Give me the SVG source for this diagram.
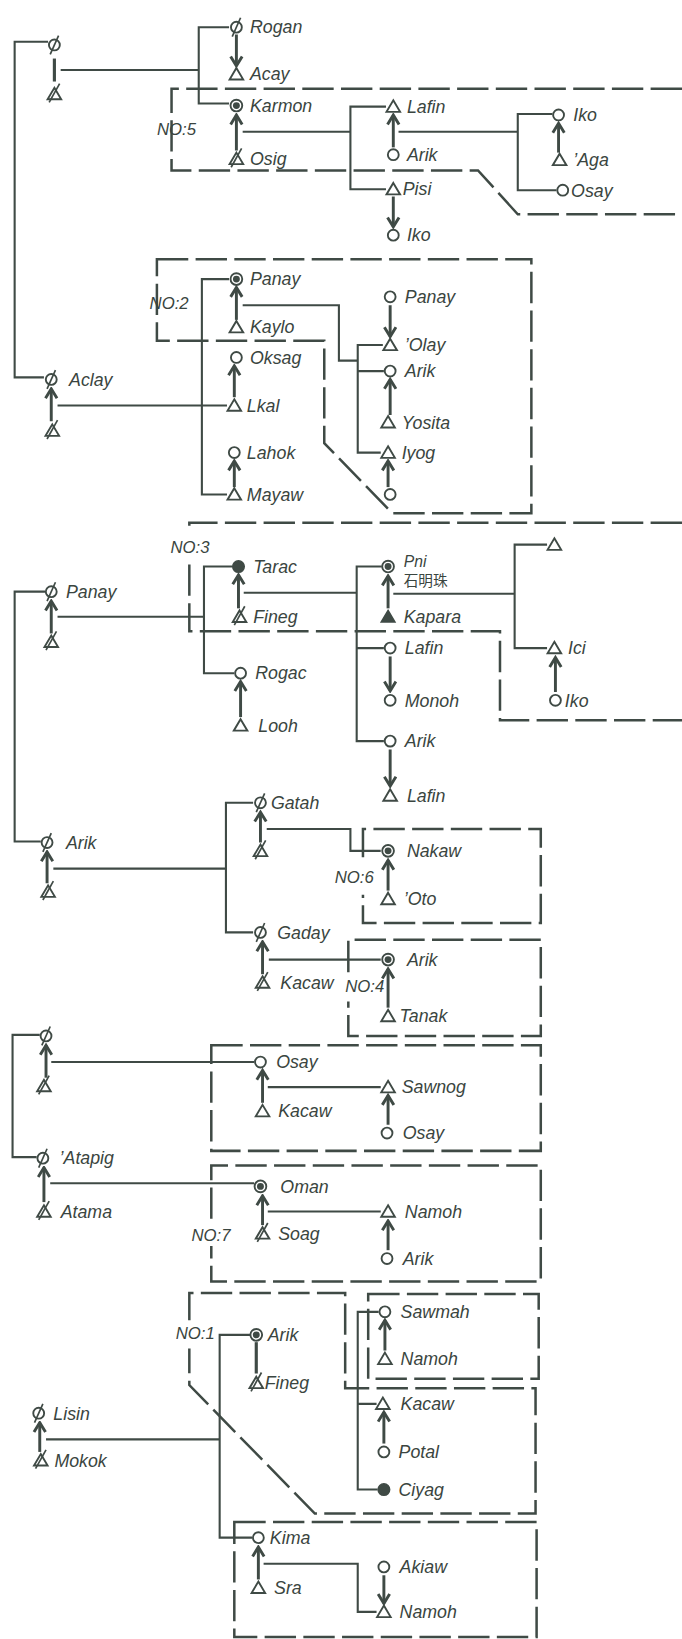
<svg xmlns="http://www.w3.org/2000/svg" width="682" height="1639" viewBox="0 0 682 1639">
<style>
.ln{fill:none;stroke:#3f4a45;stroke-width:2}
.bar{fill:none;stroke:#3f4a45;stroke-width:3}
.ds{fill:none;stroke:#3f4a45;stroke-width:2.4;stroke-dasharray:30 7}
.ar{fill:none;stroke:#3f4a45;stroke-width:2.8;marker-end:url(#ah)}
.sym{fill:#fff;stroke:#3f4a45;stroke-width:1.8}
.fil{fill:#3f4a45;stroke:#3f4a45;stroke-width:1.5}
.sl{stroke:#3f4a45;stroke-width:1.6}
.t{font-family:"Liberation Sans","Noto Sans",sans-serif;font-style:italic;font-size:17px;fill:#3a4540}
.no{font-family:"Liberation Sans","Noto Sans",sans-serif;font-style:italic;font-size:16px;fill:#3a4540}
.cj{font-family:"Noto Sans CJK TC","Noto Sans CJK SC",sans-serif;font-size:14px;fill:#3a4540}
</style>
<defs>
<marker id="ah" viewBox="0 0 14 14" refX="12" refY="7" markerWidth="14" markerHeight="14" orient="auto" markerUnits="userSpaceOnUse"><path d="M3,1.5 L12,7 L3,12.5" fill="none" stroke="#3f4a45" stroke-width="2.8" stroke-linejoin="miter"/></marker>
<g id="tri"><polygon class="sym" points="0,-6 6.5,5 -6.5,5"/></g>
<g id="ftri"><polygon class="fil" points="0,-6 6.5,5 -6.5,5"/></g>
<g id="cir"><circle class="sym" r="5.2"/></g>
<g id="dcir"><circle class="sym" r="5.6"/><circle r="3.3" fill="#3f4a45"/></g>
<g id="fcir"><circle class="fil" r="5.5"/></g>
<g id="xcir"><circle class="sym" r="5.2"/><line class="sl" x1="-4" y1="9" x2="4" y2="-9"/></g>
<g id="xtri"><polygon class="sym" points="0,-6 6.5,5 -6.5,5"/><line class="sl" x1="-5" y1="8" x2="5" y2="-10"/></g>
</defs>
<rect width="682" height="1639" fill="#fff"/>
<g transform="scale(1.046 1.0453)">
<g id="connectors">
<path class="ln" d="M46,40 H14 V361 H42"/>
<path class="ln" d="M58,67 H190"/>
<path class="bar" d="M52,56 V78"/>
<path class="ln" d="M219,26 H190 V99 H219"/>
<line class="ar" x1="226" y1="33" x2="226" y2="63"/>
<line class="ar" x1="226" y1="144" x2="226" y2="110"/>
<path class="ln" d="M232,126 H335"/>
<path class="ln" d="M369,102 H335 V181 H369"/>
<line class="ar" x1="376" y1="141" x2="376" y2="110"/>
<path class="ln" d="M381,126 H495"/>
<path class="ln" d="M528,109 H495 V182 H532"/>
<line class="ar" x1="534" y1="146" x2="534" y2="118"/>
<line class="ar" x1="376" y1="188" x2="376" y2="217"/>
<path class="ds" d="M652,85 H164 V163 H457 L495,205 H652"/>

<path class="ln" d="M219,267 H193 V473 H217"/>
<line class="ar" x1="226" y1="306" x2="226" y2="275"/>
<path class="ln" d="M232,292 H324 V345 H342"/>
<path class="ln" d="M366,330 H342 V433 H364 M342,355 H367"/>
<line class="ar" x1="373" y1="292" x2="373" y2="322"/>
<line class="ar" x1="373" y1="397" x2="373" y2="363"/>
<line class="ar" x1="371" y1="466" x2="371" y2="441"/>
<line class="ar" x1="224" y1="380" x2="224" y2="350"/>
<line class="ar" x1="224" y1="466" x2="224" y2="441"/>
<line class="ar" x1="49" y1="403" x2="49" y2="372"/>
<path class="ln" d="M55,388 H217"/>
<path class="ds" d="M150,248 H508 V491 H375 L310,424 V326 H150 Z"/>

<path class="ln" d="M43,566 H14 V805 H39"/>
<line class="ar" x1="49" y1="606" x2="49" y2="575"/>
<path class="ln" d="M55,590 H195"/>
<path class="ln" d="M222,542 H195 V644 H224"/>
<line class="ar" x1="228" y1="582" x2="228" y2="550"/>
<path class="ln" d="M233,567 H341"/>
<path class="ln" d="M365,542 H341 V709 H367 M341,620 H367"/>
<line class="ar" x1="371" y1="582" x2="371" y2="551"/>
<path class="ln" d="M376,568 H492"/>
<path class="ln" d="M523,521 H492 V620 H523"/>
<line class="ar" x1="531" y1="662" x2="531" y2="629"/>
<line class="ar" x1="373" y1="628" x2="373" y2="661"/>
<line class="ar" x1="230" y1="686" x2="230" y2="652"/>
<line class="ar" x1="373" y1="717" x2="373" y2="752"/>
<path class="ds" d="M652,500 H181 V507 M181,540 V604 H478 V689 H652"/>

<line class="ar" x1="45" y1="845" x2="45" y2="815"/>
<path class="ln" d="M51,831 H216"/>
<path class="ln" d="M242,768 H216 V892 H242"/>
<line class="ar" x1="249" y1="806" x2="249" y2="777"/>
<path class="ln" d="M255,793 H335 V814 H364"/>
<line class="ar" x1="371" y1="852" x2="371" y2="823"/>
<line class="ar" x1="251" y1="932" x2="251" y2="901"/>
<path class="ln" d="M257,918 H364"/>
<line class="ar" x1="371" y1="964" x2="371" y2="927"/>
<path class="ds" d="M347,820 V793 H517 V883 H347 V856"/>
<path class="ds" d="M333,930 V899 H517 V991 H333 V958"/>

<path class="ln" d="M38,990 H12 V1107 H35"/>
<line class="ar" x1="44" y1="1031" x2="44" y2="1000"/>
<path class="ln" d="M49,1016 H243"/>
<line class="ar" x1="251" y1="1055" x2="251" y2="1024"/>
<path class="ln" d="M256,1040 H364"/>
<line class="ar" x1="371" y1="1076" x2="371" y2="1048"/>
<path class="ds" d="M202,1000 H517 V1101 H202 Z"/>

<line class="ar" x1="42" y1="1150" x2="42" y2="1117"/>
<path class="ln" d="M48,1132 H243"/>
<line class="ar" x1="251" y1="1172" x2="251" y2="1144"/>
<path class="ln" d="M256,1159 H364"/>
<line class="ar" x1="371" y1="1196" x2="371" y2="1168"/>
<path class="ds" d="M202,1166 V1115 H517 V1226 H202 V1192"/>

<path class="ln" d="M239,1277 H210 V1471 H241"/>
<path class="bar" d="M245,1284 V1314"/>
<line class="ar" x1="368" y1="1292" x2="368" y2="1263"/>
<path class="ln" d="M362,1255 H342 V1425 H361 M342,1343 H360"/>
<line class="ar" x1="367" y1="1381" x2="367" y2="1351"/>
<line class="ar" x1="38" y1="1389" x2="38" y2="1361"/>
<path class="ln" d="M44,1377 H210"/>
<path class="ds" d="M181,1263 V1237 H330 V1328 H512 V1448 H301 L181,1325 V1290"/>
<path class="ds" d="M352,1238 H515 V1319 H352 Z"/>

<line class="ar" x1="247" y1="1511" x2="247" y2="1480"/>
<path class="ln" d="M252,1496 H342 V1542 H360"/>
<line class="ar" x1="367" y1="1507" x2="367" y2="1534"/>
<path class="ds" d="M224,1456 H513 V1566 H224 Z"/>
</g>

<g id="labels">
<text class="no" x="150" y="129">NO:5</text>
<text class="no" x="143" y="296">NO:2</text>
<text class="no" x="163" y="529">NO:3</text>
<text class="no" x="320" y="845">NO:6</text>
<text class="no" x="330" y="949">NO:4</text>
<text class="no" x="183" y="1187">NO:7</text>
<text class="no" x="168" y="1281">NO:1</text>
</g>

<g id="n-top-f"><use href="#xcir" x="52" y="43"/></g>
<g id="n-top-m"><use href="#xtri" x="52" y="90"/></g>
<g id="n-rogan"><use href="#xcir" x="226" y="26"/><text class="t" x="239" y="32">Rogan</text></g>
<g id="n-acay"><use href="#tri" x="226" y="71"/><text class="t" x="239" y="77">Acay</text></g>
<g id="n-karmon"><use href="#dcir" x="226" y="101"/><text class="t" x="239" y="107">Karmon</text></g>
<g id="n-osig"><use href="#xtri" x="226" y="152"/><text class="t" x="239" y="158">Osig</text></g>
<g id="n-lafin1"><use href="#tri" x="376" y="102"/><text class="t" x="389" y="108">Lafin</text></g>
<g id="n-arik1"><use href="#cir" x="376" y="148"/><text class="t" x="389" y="154">Arik</text></g>
<g id="n-pisi"><use href="#tri" x="376" y="181"/><text class="t" x="385" y="187">Pisi</text></g>
<g id="n-iko1"><use href="#cir" x="376" y="225"/><text class="t" x="389" y="231">Iko</text></g>
<g id="n-iko2"><use href="#cir" x="534" y="110"/><text class="t" x="548" y="116">Iko</text></g>
<g id="n-aga"><use href="#tri" x="535" y="153"/><text class="t" x="548" y="159">’Aga</text></g>
<g id="n-osay1"><use href="#cir" x="538" y="182"/><text class="t" x="546" y="188">Osay</text></g>

<g id="n-panay2"><use href="#dcir" x="226" y="267"/><text class="t" x="239" y="273">Panay</text></g>
<g id="n-kaylo"><use href="#tri" x="226" y="313"/><text class="t" x="239" y="319">Kaylo</text></g>
<g id="n-oksag"><use href="#cir" x="226" y="342"/><text class="t" x="239" y="348">Oksag</text></g>
<g id="n-lkal"><use href="#tri" x="224" y="388"/><text class="t" x="236" y="394">Lkal</text></g>
<g id="n-lahok"><use href="#cir" x="224" y="433"/><text class="t" x="236" y="439">Lahok</text></g>
<g id="n-mayaw"><use href="#tri" x="224" y="473"/><text class="t" x="236" y="479">Mayaw</text></g>
<g id="n-panay2b"><use href="#cir" x="373" y="284"/><text class="t" x="387" y="290">Panay</text></g>
<g id="n-olay"><use href="#tri" x="373" y="330"/><text class="t" x="387" y="336">’Olay</text></g>
<g id="n-arik2"><use href="#cir" x="373" y="355"/><text class="t" x="387" y="361">Arik</text></g>
<g id="n-yosita"><use href="#tri" x="371" y="404"/><text class="t" x="384" y="410">Yosita</text></g>
<g id="n-iyog"><use href="#tri" x="371" y="433"/><text class="t" x="384" y="439">Iyog</text></g>
<g id="n-c2"><use href="#cir" x="373" y="473"/></g>
<g id="n-aclay"><use href="#xcir" x="49" y="363"/><text class="t" x="66" y="369">Aclay</text></g>
<g id="n-aclay-h"><use href="#xtri" x="50" y="412"/></g>

<g id="n-panay3"><use href="#xcir" x="49" y="566"/><text class="t" x="63" y="572">Panay</text></g>
<g id="n-panay3-h"><use href="#xtri" x="49" y="614"/></g>
<g id="n-tarac"><use href="#fcir" x="228" y="542"/><text class="t" x="242" y="548">Tarac</text></g>
<g id="n-fineg3"><use href="#xtri" x="229" y="590"/><text class="t" x="242" y="596">Fineg</text></g>
<g id="n-rogac"><use href="#cir" x="230" y="644"/><text class="t" x="244" y="650">Rogac</text></g>
<g id="n-looh"><use href="#tri" x="230" y="694"/><text class="t" x="247" y="700">Looh</text></g>
<g id="n-pni"><use href="#dcir" x="371" y="542"/><text class="t" x="386" y="542" style="font-size:15px">Pni</text><text class="cj" x="386" y="561">石明珠</text></g>
<g id="n-kapara"><use href="#ftri" x="371" y="590"/><text class="t" x="386" y="596">Kapara</text></g>
<g id="n-lafin3"><use href="#cir" x="373" y="620"/><text class="t" x="387" y="626">Lafin</text></g>
<g id="n-monoh"><use href="#cir" x="373" y="670"/><text class="t" x="387" y="676">Monoh</text></g>
<g id="n-arik3"><use href="#cir" x="373" y="709"/><text class="t" x="387" y="715">Arik</text></g>
<g id="n-lafin3b"><use href="#tri" x="373" y="761"/><text class="t" x="389" y="767">Lafin</text></g>
<g id="n-t3"><use href="#tri" x="530" y="521"/></g>
<g id="n-ici"><use href="#tri" x="530" y="620"/><text class="t" x="543" y="626">Ici</text></g>
<g id="n-iko3"><use href="#cir" x="531" y="670"/><text class="t" x="540" y="676">Iko</text></g>

<g id="n-arik4"><use href="#xcir" x="45" y="806"/><text class="t" x="63" y="812">Arik</text></g>
<g id="n-arik4-h"><use href="#xtri" x="46" y="853"/></g>
<g id="n-gatah"><use href="#xcir" x="249" y="768"/><text class="t" x="259" y="774">Gatah</text></g>
<g id="n-gatah-h"><use href="#xtri" x="249" y="814"/></g>
<g id="n-gaday"><use href="#xcir" x="249" y="892"/><text class="t" x="265" y="898">Gaday</text></g>
<g id="n-kacaw4"><use href="#xtri" x="251" y="940"/><text class="t" x="268" y="946">Kacaw</text></g>
<g id="n-nakaw"><use href="#dcir" x="371" y="814"/><text class="t" x="389" y="820">Nakaw</text></g>
<g id="n-oto"><use href="#tri" x="371" y="860"/><text class="t" x="386" y="866">’Oto</text></g>
<g id="n-arik4b"><use href="#dcir" x="371" y="918"/><text class="t" x="389" y="924">Arik</text></g>
<g id="n-tanak"><use href="#tri" x="371" y="972"/><text class="t" x="382" y="978">Tanak</text></g>

<g id="n-f5"><use href="#xcir" x="44" y="991"/></g>
<g id="n-m5"><use href="#xtri" x="42" y="1039"/></g>
<g id="n-osay5"><use href="#cir" x="249" y="1016"/><text class="t" x="264" y="1022">Osay</text></g>
<g id="n-kacaw5"><use href="#tri" x="251" y="1063"/><text class="t" x="266" y="1069">Kacaw</text></g>
<g id="n-sawnog"><use href="#tri" x="371" y="1040"/><text class="t" x="384" y="1046">Sawnog</text></g>
<g id="n-osay5b"><use href="#cir" x="370" y="1084"/><text class="t" x="385" y="1090">Osay</text></g>

<g id="n-atapig"><use href="#xcir" x="41" y="1108"/><text class="t" x="57" y="1114">’Atapig</text></g>
<g id="n-atama"><use href="#xtri" x="42" y="1159"/><text class="t" x="58" y="1165">Atama</text></g>
<g id="n-oman"><use href="#dcir" x="249" y="1135"/><text class="t" x="268" y="1141">Oman</text></g>
<g id="n-soag"><use href="#xtri" x="251" y="1180"/><text class="t" x="266" y="1186">Soag</text></g>
<g id="n-namoh6"><use href="#tri" x="371" y="1159"/><text class="t" x="387" y="1165">Namoh</text></g>
<g id="n-arik6"><use href="#cir" x="370" y="1204"/><text class="t" x="385" y="1210">Arik</text></g>

<g id="n-arik7"><use href="#dcir" x="245" y="1277"/><text class="t" x="256" y="1283">Arik</text></g>
<g id="n-fineg7"><use href="#xtri" x="245" y="1323"/><text class="t" x="253" y="1329">Fineg</text></g>
<g id="n-sawmah"><use href="#cir" x="368" y="1255"/><text class="t" x="383" y="1261">Sawmah</text></g>
<g id="n-namoh7"><use href="#tri" x="368" y="1300"/><text class="t" x="383" y="1306">Namoh</text></g>
<g id="n-kacaw7"><use href="#tri" x="366" y="1343"/><text class="t" x="383" y="1349">Kacaw</text></g>
<g id="n-potal"><use href="#cir" x="367" y="1389"/><text class="t" x="381" y="1395">Potal</text></g>
<g id="n-ciyag"><use href="#fcir" x="367" y="1425"/><text class="t" x="381" y="1431">Ciyag</text></g>
<g id="n-lisin"><use href="#xcir" x="37" y="1352"/><text class="t" x="51" y="1358">Lisin</text></g>
<g id="n-mokok"><use href="#xtri" x="39" y="1397"/><text class="t" x="52" y="1403">Mokok</text></g>

<g id="n-kima"><use href="#cir" x="247" y="1471"/><text class="t" x="258" y="1477">Kima</text></g>
<g id="n-sra"><use href="#tri" x="247" y="1519"/><text class="t" x="262" y="1525">Sra</text></g>
<g id="n-akiaw"><use href="#cir" x="367" y="1499"/><text class="t" x="382" y="1505">Akiaw</text></g>
<g id="n-namoh8"><use href="#tri" x="367" y="1542"/><text class="t" x="382" y="1548">Namoh</text></g>
</g>
</svg>
